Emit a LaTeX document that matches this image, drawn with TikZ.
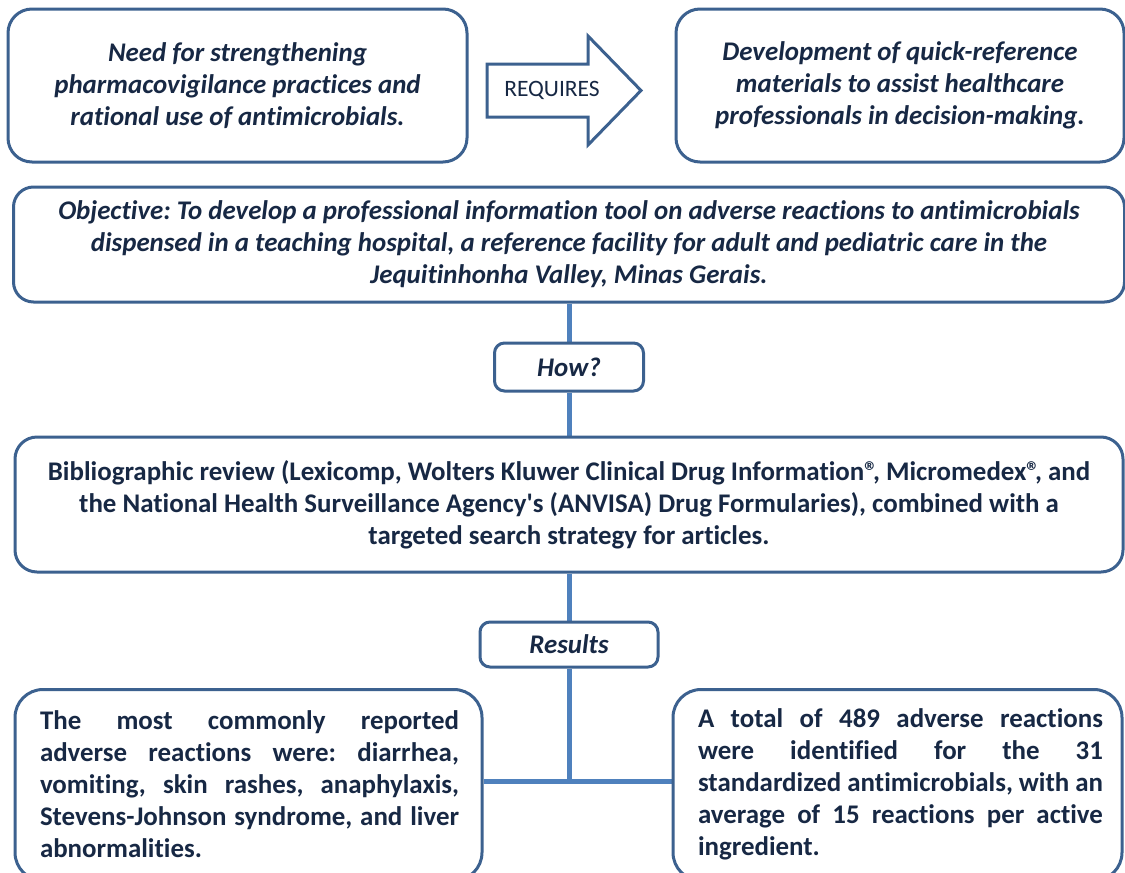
\documentclass[tikz,border=0pt]{standalone}
\usepackage{fontspec}
\setmainfont{Carlito}[Ligatures={TeX,NoCommon},RawFeature=-calt]
\usetikzlibrary{backgrounds}
\definecolor{navy}{RGB}{23,40,68}
\definecolor{boxblue}{RGB}{60,97,143}
\definecolor{linkblue}{RGB}{79,129,189}
\frenchspacing
\newcommand{\regmark}{®\kern-5pt}
\tikzset{
  box/.style={draw=boxblue, line width=3pt, fill=white, rounded corners=#1, inner sep=0pt, text=navy},
  box/.default=24pt,
  bigtxt/.style={font=\fontsize{26.9}{32}\selectfont\bfseries\itshape},
  boldtxt/.style={font=\fontsize{26.9}{32}\selectfont\bfseries},
  link/.style={draw=linkblue, line width=5pt}
}
\begin{document}
\begin{tikzpicture}[x=1pt,y=-1pt]
\useasboundingbox (0,0) rectangle (1125,873);

\node[box, bigtxt, minimum width=459pt, minimum height=153pt, align=center] (need) at (237.5,85.5)
 {Need for strengthening\\pharmacovigilance practices and\\rational use of antimicrobials.};

\draw[boxblue, line width=3pt, fill=white, line join=miter]
  (487,64) -- (588,64) -- (588,36) -- (641,90.5) -- (588,145) -- (588,117) -- (487,117) -- cycle;
\node[text=navy, font=\fontsize{23.5}{28}\selectfont, inner sep=0pt] (req) at (552,90.5) {REQUIRES};

\node[box, bigtxt, minimum width=448pt, minimum height=153pt, align=center] (dev) at (900,85.5)
 {Development of quick-reference\\materials to assist healthcare\\professionals in decision-making.};

\node[box=20pt, bigtxt, minimum width=1111pt, minimum height=115pt, align=center] (obj) at (569,244.5)
 {Objective: To develop a professional information tool on adverse reactions to antimicrobials\\dispensed in a teaching hospital, a reference facility for adult and pediatric care in the\\Jequitinhonha Valley, Minas Gerais.};

\node[box=10pt, bigtxt, minimum width=149pt, minimum height=48pt] (how) at (569,367) {How?};

\node[box=22pt, boldtxt, minimum width=1108pt, minimum height=135pt, align=center] (bib) at (569,504.5)
 {Bibliographic review (Lexicomp, Wolters Kluwer Clinical Drug Information\regmark, Micromedex\regmark, and\\the National Health Surveillance Agency\textquotesingle s (ANVISA) Drug Formularies), combined with a\\targeted search strategy for articles.};

\node[box=10pt, bigtxt, minimum width=178pt, minimum height=45pt] (res) at (569,644.5) {Results};

\node[box=28pt, minimum width=467pt, minimum height=191pt] (left) at (248.5,785) {};
\node[boldtxt, text=navy, text width=419pt, align=justify, inner sep=0pt] (lefttxt) at (249.5,784.5)
 {The most commonly reported\linebreak adverse reactions were: diarrhea,\linebreak vomiting, skin rashes, anaphylaxis,\linebreak Stevens-Johnson syndrome, and liver\linebreak abnormalities.};

\node[box=28pt, minimum width=449pt, minimum height=191pt] (right) at (897.5,785) {};
\node[boldtxt, text=navy, text width=405pt, align=justify, inner sep=0pt] (righttxt) at (900.5,784.5)
 {A total of 489 adverse reactions\linebreak were identified for the 31\linebreak standardized antimicrobials, with an\linebreak average of 15 reactions per active\linebreak ingredient.};

\coordinate (j) at (569,781);

\begin{scope}[on background layer]
\draw[link] (obj.south) -- (how.north);
\draw[link] (how.south) -- (bib.north);
\draw[link] (bib.south) -- (res.north);
\draw[link] (res.south) -- (j);
\draw[link] (j -| left.east) -- (j -| right.west);
\end{scope}
\end{tikzpicture}
\end{document}
